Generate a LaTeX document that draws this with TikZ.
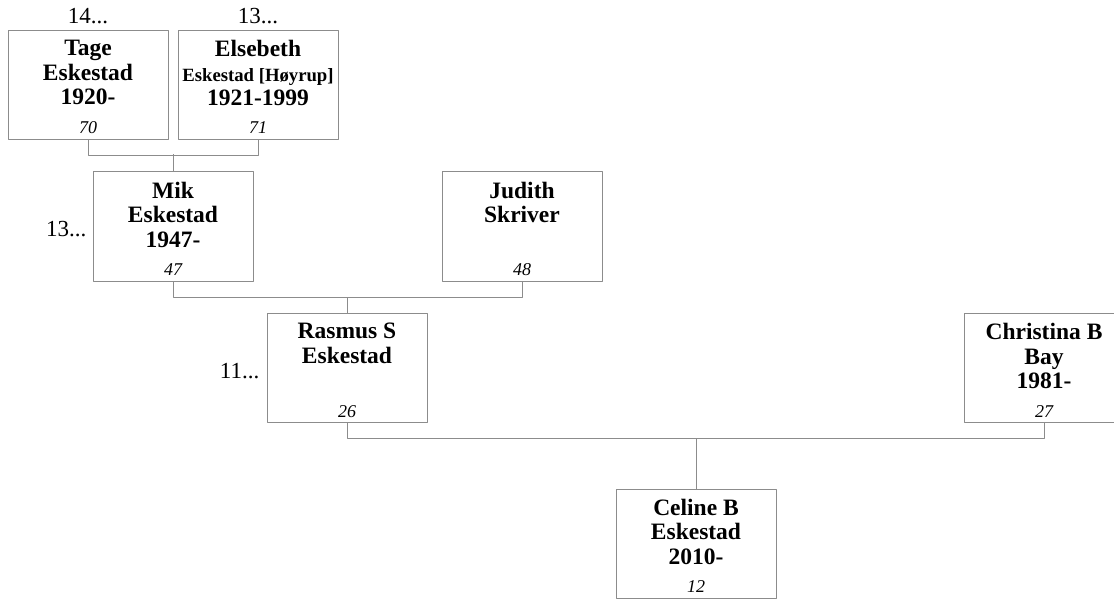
\documentclass[tikz,border=0pt]{standalone}
\usepackage{fontspec}
\setmainfont{Liberation Serif}
\definecolor{linegray}{RGB}{140,140,140}
\begin{document}
\begin{tikzpicture}[x=1pt,y=-1pt,line join=round,
	box/.style={draw=linegray,line width=1pt,minimum width=160pt,minimum height=109pt,inner sep=0pt},
	who/.style={anchor=north,align=center,inner sep=0pt,font=\fontsize{23.5}{24.5}\selectfont\bfseries},
	age/.style={anchor=base,inner sep=0pt,font=\fontsize{18}{20}\selectfont\itshape},
	gen/.style={inner sep=0pt,font=\fontsize{23}{25}\selectfont},
	link/.style={draw=linegray,line width=1pt}]
	\useasboundingbox (0,0) rectangle (1114,599);
	% boxes
	\node[box] (tage) at (88,85) {};
	\node[box] (elsebeth) at (258,85) {};
	\node[box] (mik) at (173,226.5) {};
	\node[box] (judith) at (522,226.5) {};
	\node[box] (rasmus) at (347,368) {};
	\node[box] (christina) at (1044,368) {};
	\node[box] (celine) at (696,543.5) {};
	% names
	\node[who] (tage-n) at ([yshift=-10pt]tage.north) {Tage\\Eskestad\\1920-};
	\node[who] (elsebeth-n) at ([yshift=-10pt]elsebeth.north) {Elsebeth\\{\fontsize{18.7}{24.5}\selectfont Eskestad [Høyrup]}\\1921-1999};
	\node[who] (mik-n) at ([yshift=-10pt]mik.north) {Mik\\Eskestad\\1947-};
	\node[who] (judith-n) at ([yshift=-10pt]judith.north) {Judith\\Skriver};
	\node[who] (rasmus-n) at ([yshift=-10pt]rasmus.north) {Rasmus S\\Eskestad};
	\node[who] (christina-n) at ([yshift=-10pt]christina.north) {Christina B\\Bay\\1981-};
	\node[who] (celine-n) at ([yshift=-10pt]celine.north) {Celine B\\Eskestad\\2010-};
	% ages
	\node[age] (tage-a) at ([yshift=6pt]tage.south) {70};
	\node[age] (elsebeth-a) at ([yshift=6pt]elsebeth.south) {71};
	\node[age] (mik-a) at ([yshift=6pt]mik.south) {47};
	\node[age] (judith-a) at ([yshift=6pt]judith.south) {48};
	\node[age] (rasmus-a) at ([yshift=6pt]rasmus.south) {26};
	\node[age] (christina-a) at ([yshift=6pt]christina.south) {27};
	\node[age] (celine-a) at ([yshift=6pt]celine.south) {12};
	% generations
	\node[gen,anchor=base] (tage-g) at ([yshift=6pt]tage.north) {14...};
	\node[gen,anchor=base] (elsebeth-g) at ([yshift=6pt]elsebeth.north) {13...};
	\node[gen,anchor=base east] (mik-g) at ([xshift=-6pt,yshift=-9.5pt]mik.west) {13...};
	\node[gen,anchor=base east] (rasmus-g) at ([xshift=-7pt,yshift=-10pt]rasmus.west) {11...};
	% links
	\draw[link] (tage.south) -- ++(0,16) -| (elsebeth.south);
	\draw[link] (mik.north) -- ++(0,-17);
	\draw[link] (mik.south) -- ++(0,16) -| (judith.south);
	\draw[link] (rasmus.north) -- ++(0,-16);
	\draw[link] (rasmus.south) -- ++(0,15) -| (christina.south);
	\draw[link] (celine.north) -- ++(0,-51);
\end{tikzpicture}
\end{document}
